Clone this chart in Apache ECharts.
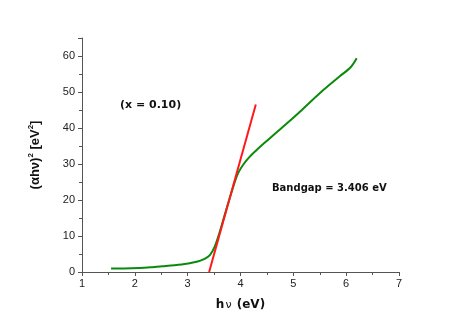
<!DOCTYPE html>
<html>
<head>
<meta charset="utf-8">
<script src="https://cdn.jsdelivr.net/npm/echarts@6/dist/echarts.min.js"></script>
<style>
html,body{margin:0;padding:0;background:#fff;}
#chart{width:463px;height:327px;}
</style>
</head>
<body>
<div id="chart"></div>
<script>
// 测量曲线 (hv, (ahv)^2)
var hvData = [1.55, 1.8, 2.09, 2.3, 2.53, 2.75, 2.98, 3.12, 3.23, 3.33, 3.42, 3.51, 3.60, 3.70, 3.80, 3.90, 3.96, 4.05, 4.18, 4.30, 4.45, 4.62, 4.88, 5.13, 5.51, 5.89, 6.08, 6.20];
var absData = [1.0, 1.0, 1.1, 1.3, 1.6, 1.9, 2.3, 2.7, 3.1, 3.7, 4.7, 7.0, 10.8, 15.8, 20.7, 25.4, 27.6, 29.8, 32.1, 33.8, 35.8, 38.0, 41.3, 44.6, 49.8, 54.5, 56.8, 59.4];
// 拟合直线
var fitX = [3.406, 4.29];
var fitY = [0, 46.5];

var curve = hvData.map(function(v, i){ return [v, absData[i]]; });
var fit = fitX.map(function(v, i){ return [v, fitY[i]]; });

var chart = echarts.init(document.getElementById('chart'));
var axisColor = '#555';
var option = {
    animation: false,
    grid: { left: 82, right: 64, top: 38, bottom: 55 },
    xAxis: {
        type: 'value',
        min: 1, max: 7, interval: 1,
        name: '{b|h}{n|ν}{b| (eV)}',
        nameLocation: 'middle',
        nameGap: 26,
        nameTextStyle: {
            rich: {
                b: { fontFamily: 'DejaVu Sans', fontWeight: 'bold', fontSize: 12, color: '#111' },
                n: { fontFamily: 'DejaVu Sans', fontSize: 11, color: '#111', padding: [2, 1, 0, 1] }
            }
        },
        axisLine: { lineStyle: { color: axisColor, width: 1 } },
        axisTick: { inside: false, length: 4, lineStyle: { color: axisColor } },
        minorTick: { show: true, splitNumber: 2, length: 3, lineStyle: { color: axisColor } },
        axisLabel: { fontFamily: 'Liberation Sans', fontSize: 11, color: '#222', margin: 6 },
        splitLine: { show: false }
    },
    yAxis: {
        type: 'value',
        min: 0, max: 65, interval: 10,
        name: '{b|(αhν)}{s|2}{b| [eV}{s|2}{b|]}',
        nameLocation: 'middle',
        nameRotate: 90,
        nameGap: 40,
        nameTextStyle: {
            rich: {
                b: { fontFamily: 'Liberation Sans', fontWeight: 'bold', fontSize: 13, color: '#111', verticalAlign: 'bottom' },
                s: { fontFamily: 'Liberation Sans', fontWeight: 'bold', fontSize: 8, color: '#111', verticalAlign: 'bottom', padding: [0, 0, 7, 0] }
            }
        },
        axisLine: { show: true, lineStyle: { color: axisColor, width: 1 } },
        axisTick: { show: true, length: 4, lineStyle: { color: axisColor } },
        minorTick: { show: true, splitNumber: 2, length: 3, lineStyle: { color: axisColor } },
        axisLabel: { fontFamily: 'Liberation Sans', fontSize: 11, color: '#222', margin: 7, showMaxLabel: false },
        splitLine: { show: false }
    },
    graphic: [
        { type: 'text', left: 120, top: 100, style: { text: '(x = 0.10)', font: 'bold 11px "DejaVu Sans"', fill: '#111' } },
        { type: 'text', left: 272, top: 183, style: { text: 'Bandgap = 3.406 eV', font: 'bold 10px "DejaVu Sans"', fill: '#111' } }
    ],
    series: [
        {
            name: 'curve',
            type: 'line',
            data: curve,
            smooth: 0.3,
            showSymbol: false,
            lineStyle: { color: '#0a8a0a', width: 2 },
            z: 2
        },
        {
            name: 'fit',
            type: 'line',
            data: fit,
            showSymbol: false,
            lineStyle: { color: '#ff1a1a', width: 2 },
            z: 3
        }
    ]
};
chart.setOption(option);
</script>
</body>
</html>
